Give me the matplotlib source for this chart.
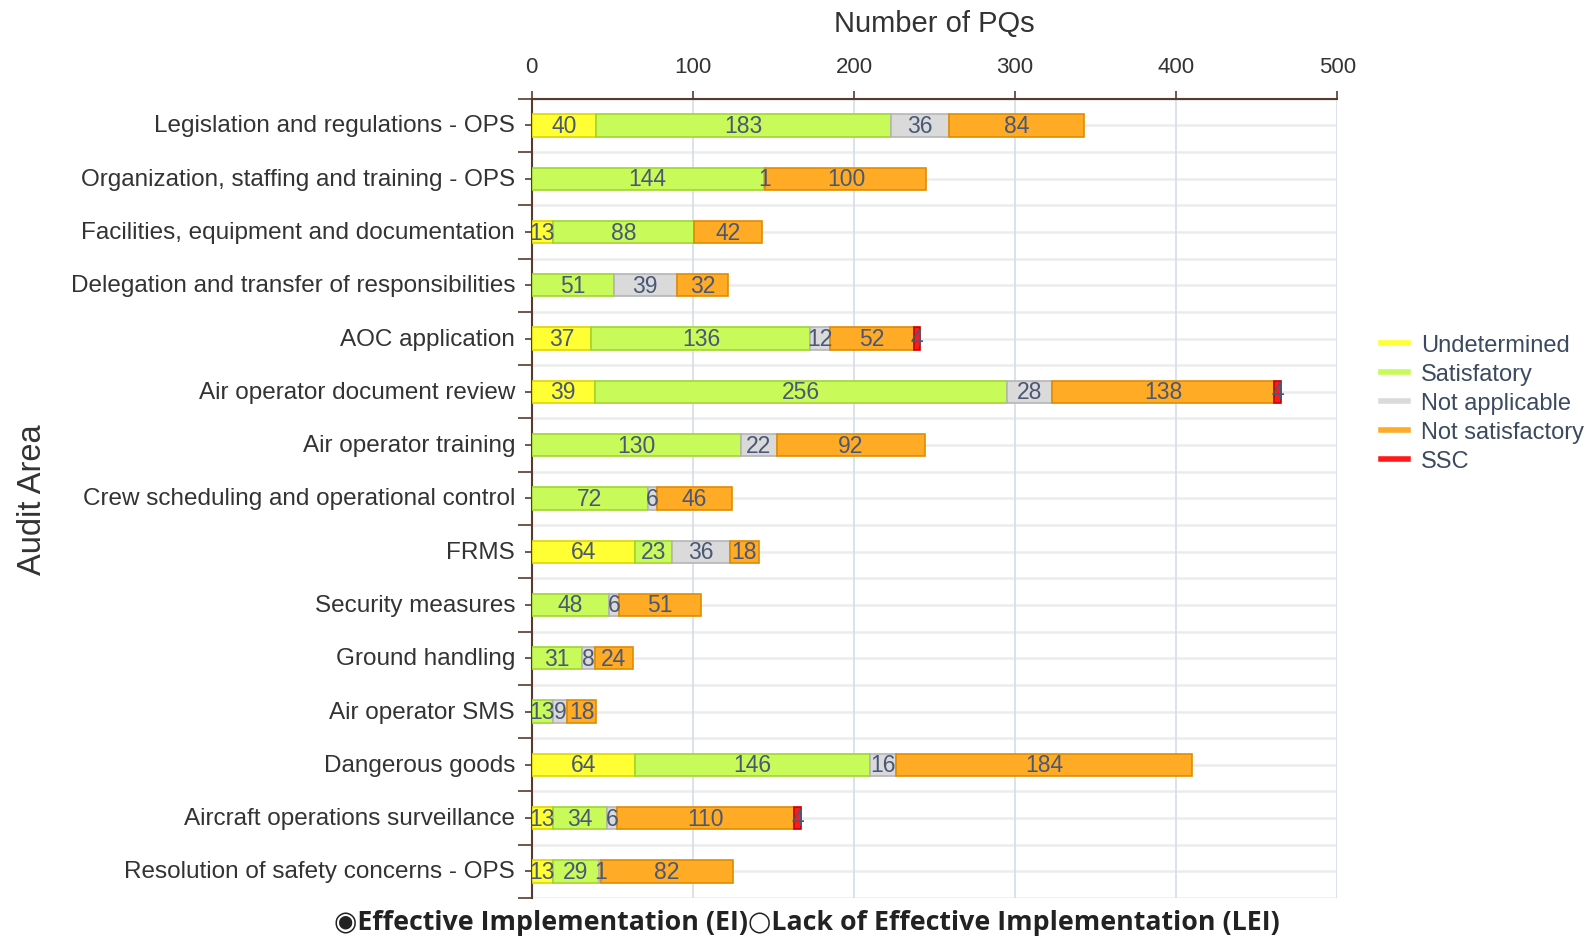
import numpy as np
import matplotlib
matplotlib.use("Agg")
import matplotlib.pyplot as plt

# Aree di audit (dall'alto verso il basso)
areas = [
    "Legislation and regulations - OPS",
    "Organization, staffing and training - OPS",
    "Facilities, equipment and documentation",
    "Delegation and transfer of responsibilities",
    "AOC application",
    "Air operator document review",
    "Air operator training",
    "Crew scheduling and operational control",
    "FRMS",
    "Security measures",
    "Ground handling",
    "Air operator SMS",
    "Dangerous goods",
    "Aircraft operations surveillance",
    "Resolution of safety concerns - OPS",
]

undetermined = [40, 0, 13, 0, 37, 39, 0, 0, 64, 0, 0, 0, 64, 13, 13]
satisfactory = [183, 144, 88, 51, 136, 256, 130, 72, 23, 48, 31, 13, 146, 34, 29]
not_applicable = [36, 1, 0, 39, 12, 28, 22, 6, 36, 6, 8, 9, 16, 6, 1]
not_satisfactory = [84, 100, 42, 32, 52, 138, 92, 46, 18, 51, 24, 18, 184, 110, 82]
ssc = [0, 0, 0, 0, 4, 4, 0, 0, 0, 0, 0, 0, 0, 4, 0]

series = [
    ("Undetermined", undetermined, "#ffff33", "#e0d400"),
    ("Satisfatory", satisfactory, "#c8fa5a", "#9fd62e"),
    ("Not applicable", not_applicable, "#dadada", "#b5b5b5"),
    ("Not satisfactory", not_satisfactory, "#ffab26", "#e08c00"),
    ("SSC", ssc, "#ff1a1a", "#c80000"),
]

plt.rcParams["font.family"] = ["Liberation Sans", "DejaVu Sans"]

label_col = "#4a5878"
axis_col = "#5a3a2e"
text_col = "#333333"

fig = plt.figure(figsize=(15.92, 9.37), dpi=100)
ax = fig.add_axes([0.334, 0.0405, 0.506, 0.853])

y = np.arange(len(areas))
left = np.zeros(len(areas))
for name, vals, fc, ec in series:
    vals = np.array(vals, dtype=float)
    m = vals > 0
    ax.barh(y[m], vals[m], left=left[m], height=0.42, color=fc, edgecolor=ec,
            linewidth=1.2, zorder=3)
    for yi, l, v in zip(y[m], left[m], vals[m]):
        ax.text(l + v / 2, yi, f"{int(v)}", ha="center", va="center",
                fontsize=16.5, color=label_col, zorder=4)
    left += vals

ax.set_xlim(0, 500)
ax.set_ylim(len(areas) - 0.5, -0.5)

# griglie
for yy in np.arange(-0.5, len(areas), 0.5):
    ax.axhline(yy, color="#ececec", lw=1.8, zorder=1)
for xx in [100, 200, 300, 400, 500]:
    ax.axvline(xx, color="#d5dde6", lw=1.2, zorder=1.5)

ax.xaxis.tick_top()
ax.xaxis.set_label_position("top")
ax.set_xticks([0, 100, 200, 300, 400, 500])
ax.tick_params(axis="x", colors=axis_col, length=6, width=1.2,
               labelsize=16, labelcolor=text_col, pad=10)
ax.set_xlabel("Number of PQs", fontsize=21, color=text_col, labelpad=18)

ax.set_yticks(y)
ax.set_yticklabels(areas, va="center")
ax.set_yticks(np.arange(-0.5, len(areas), 1.0), minor=True)
ax.tick_params(axis="y", which="major", colors=axis_col, length=5, width=1.2,
               labelsize=17.5, labelcolor=text_col, pad=7)
ax.tick_params(axis="y", which="minor", colors=axis_col, length=10, width=1.2)
ax.set_ylabel("Audit Area", fontsize=23.5, color=text_col, labelpad=0)
ax.yaxis.set_label_coords(-0.6, 0.5)

for s in ["right", "bottom"]:
    ax.spines[s].set_visible(False)
ax.spines["top"].set_color(axis_col)
ax.spines["left"].set_color(axis_col)
ax.spines["top"].set_linewidth(1.5)
ax.spines["left"].set_linewidth(1.5)

# legenda
handles = [plt.Line2D([0], [0], color=fc, lw=4) for _, _, fc, _ in series]
leg = fig.legend(handles, [s[0] for s in series], loc="upper left",
                 bbox_to_anchor=(0.854, 0.665), frameon=False, fontsize=17,
                 handlelength=1.15, handletextpad=0.55, labelspacing=0.3)
for t in leg.get_texts():
    t.set_color("#3c4a5f")

fig.text(0.21, 0.015, "◉Effective Implementation (EI)○Lack of Effective Implementation (LEI)",
         fontsize=19.3, fontweight="bold", color="#222222", ha="left", va="center",
         family=["Open Sans", "DejaVu Sans"])

fig.savefig("out.png", dpi=100)
